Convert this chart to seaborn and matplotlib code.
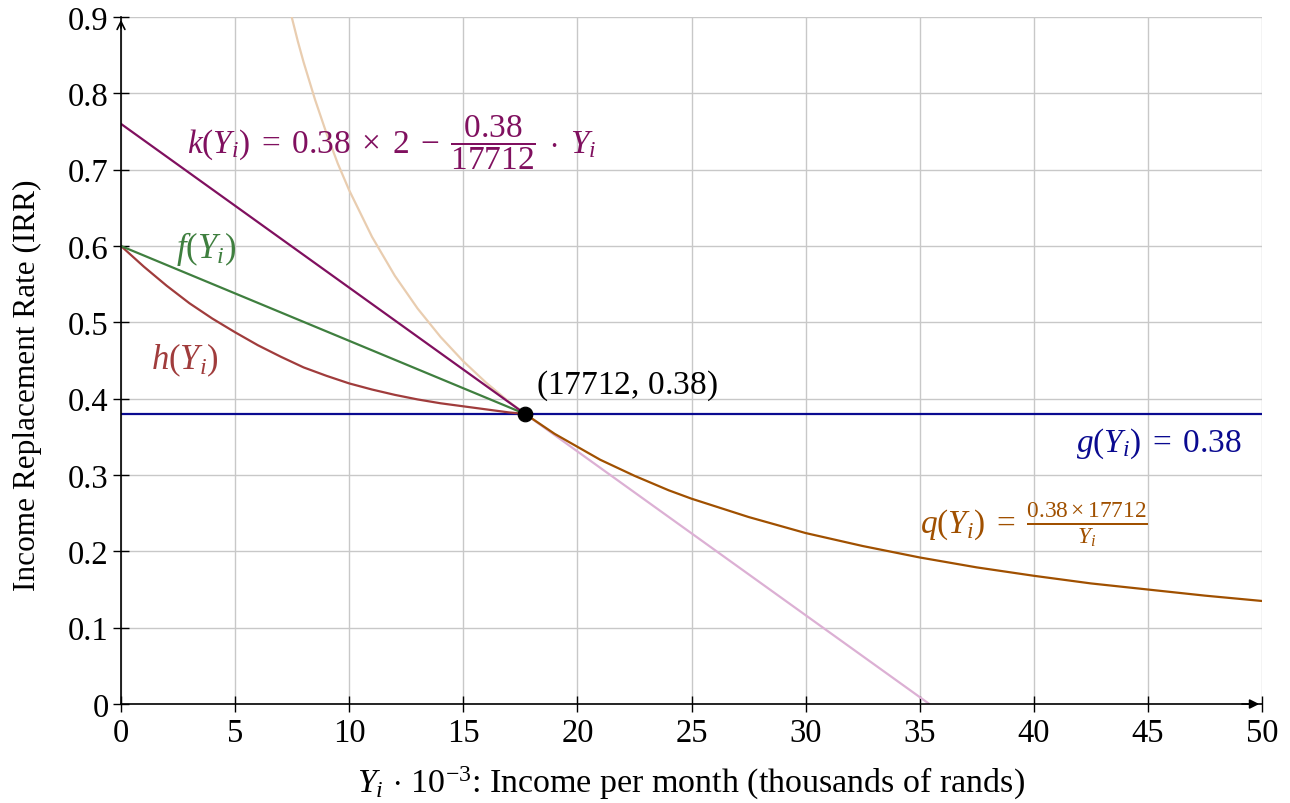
import matplotlib
matplotlib.use("Agg")
import matplotlib.pyplot as plt
import seaborn as sns
import numpy as np

# ---- data ----
g_x = [0, 50]
g_y = [0.38, 0.38]

k_x = [0, 17.712]
k_y = [0.76, 0.38]
k_ext_x = [17.712, 35.424]
k_ext_y = [0.38, 0.0]

f_x = [0, 17.712]
f_y = [0.60, 0.38]

h_x = [0, 1, 2, 3, 4, 5, 6, 7, 8, 9, 10, 11, 12, 13, 14, 15, 16, 17, 17.712]
h_y = [0.600, 0.573, 0.548, 0.525, 0.505, 0.487, 0.470, 0.455, 0.441, 0.430, 0.420,
       0.412, 0.405, 0.399, 0.394, 0.390, 0.386, 0.382, 0.380]

q_x = [17.712, 19, 20, 21, 22.5, 24, 25, 27.5, 30, 32.5, 35, 37.5, 40, 42.5, 45, 47.5, 50]
q_y = [0.380, 0.354, 0.337, 0.320, 0.299, 0.280, 0.269, 0.245, 0.224, 0.207, 0.192,
       0.179, 0.168, 0.158, 0.150, 0.142, 0.135]
q_ext_x = [7.48, 7.75, 8, 8.5, 9, 9.5, 10, 11, 12, 13, 14, 15, 16, 17, 17.712]
q_ext_y = [0.900, 0.868, 0.841, 0.792, 0.748, 0.708, 0.673, 0.612, 0.561, 0.518, 0.481,
           0.449, 0.421, 0.396, 0.380]

point_x = [17.712]
point_y = [0.38]

x_ticks = [0, 5, 10, 15, 20, 25, 30, 35, 40, 45, 50]
y_ticks = [0, 0.1, 0.2, 0.3, 0.4, 0.5, 0.6, 0.7, 0.8, 0.9]
y_tick_labels = ["0", "0.1", "0.2", "0.3", "0.4", "0.5", "0.6", "0.7", "0.8", "0.9"]

# ---- style ----
sns.set_theme(style="white")
plt.rcParams["font.family"] = ["Liberation Serif", "DejaVu Serif"]
plt.rcParams["mathtext.fontset"] = "custom"
plt.rcParams["mathtext.rm"] = "Liberation Serif"
plt.rcParams["mathtext.it"] = "Liberation Serif:italic"
plt.rcParams["mathtext.bf"] = "Liberation Serif:bold"
plt.rcParams["text.color"] = "black"
plt.rcParams["axes.labelcolor"] = "black"
plt.rcParams["xtick.color"] = "black"
plt.rcParams["ytick.color"] = "black"

C_K = "#80105f"
C_K2 = "#dcb0d4"
C_Q = "#a05000"
C_Q2 = "#e9cdb0"
C_F = "#3f7f3f"
C_H = "#a03c3c"
C_G = "#0a0a90"

fig = plt.figure(figsize=(12.9, 8.04), dpi=100)
ax = fig.add_axes([0.0938, 0.1231, 0.8845, 0.8545])

lw = 1.6
kw = dict(ax=ax, lw=lw, sort=False, estimator=None)
sns.lineplot(x=q_ext_x, y=q_ext_y, color=C_Q2, **kw)
sns.lineplot(x=k_ext_x, y=k_ext_y, color=C_K2, **kw)
sns.lineplot(x=g_x, y=g_y, color=C_G, **kw)
sns.lineplot(x=h_x, y=h_y, color=C_H, **kw)
sns.lineplot(x=f_x, y=f_y, color=C_F, **kw)
sns.lineplot(x=k_x, y=k_y, color=C_K, **kw)
sns.lineplot(x=q_x, y=q_y, color=C_Q, **kw)
sns.scatterplot(x=point_x, y=point_y, ax=ax, color="black", s=110, zorder=6, edgecolor="black")

ax.set_xlim(0, 50)
ax.set_ylim(0, 0.9)
ax.set_xticks(x_ticks)
ax.set_xticklabels([str(t) for t in x_ticks])
ax.set_yticks(y_ticks)
ax.set_yticklabels(y_tick_labels)

ax.grid(True, color="#c8c8c8", lw=1.0)
ax.set_axisbelow(True)
for s in ["top", "right"]:
    ax.spines[s].set_visible(False)
for s in ["left", "bottom"]:
    ax.spines[s].set_color("black")
    ax.spines[s].set_linewidth(1.2)
    ax.spines[s].set_zorder(5)

ax.tick_params(axis="both", which="major", direction="inout", length=12, width=1.0,
               color="black", labelcolor="black", labelsize=23.5, left=True, bottom=True)
ax.tick_params(axis="x", pad=4)
ax.tick_params(axis="y", pad=3)

# axis arrows
ax.annotate("", xy=(0, 1.0), xytext=(0, 0.98), xycoords="axes fraction",
            arrowprops=dict(arrowstyle="->", color="black", lw=1.2, mutation_scale=14))
ax.annotate("", xy=(1.0, 0), xytext=(0.98, 0), xycoords="axes fraction",
            arrowprops=dict(arrowstyle="-|>", color="black", lw=1.2, mutation_scale=14))

ax.set_xlabel(r"$Y_i\,\cdot\,10^{-3}$: Income per month (thousands of rands)", fontsize=24.5,
              labelpad=11, color="black")
ax.set_ylabel("Income Replacement Rate (IRR)", fontsize=22.5, color="black")
ax.yaxis.set_label_coords(-0.069, 0.466)

fs = 24
ax.text(2.9, 0.737,
        r"$k(Y_i)\;=\;0.38\;\times\;2\;-\;\dfrac{0.38}{17712}\;\cdot\;Y_i$",
        color=C_K, fontsize=fs, va="center", ha="left")
ax.text(2.4, 0.597, r"$f(Y_i)$", color=C_F, fontsize=fs + 1, va="center", ha="left")
ax.text(1.3, 0.452, r"$h(Y_i)$", color=C_H, fontsize=fs + 1, va="center", ha="left")
ax.text(18.2, 0.418, r"$(17712,\,0.38)$", color="black", fontsize=fs, va="center", ha="left")
ax.text(49.1, 0.342, r"$g(Y_i)\;=\;0.38$", color=C_G, fontsize=fs, va="center", ha="right")
ax.text(35.0, 0.236, r"$q(Y_i)\;=\;\frac{0.38\times 17712}{Y_i}$", color=C_Q,
        fontsize=fs, va="center", ha="left")

fig.savefig("out.png", dpi=100)
